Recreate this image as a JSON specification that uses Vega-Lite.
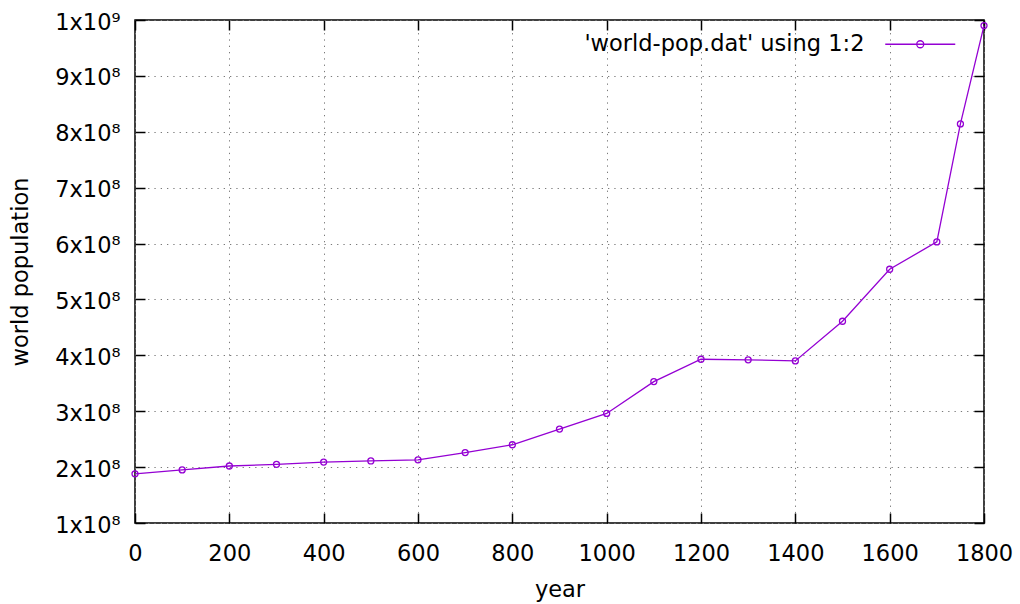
{
  "$schema": "https://vega.github.io/schema/vega-lite/v6.json",
  "width": 849,
  "height": 503,
  "autosize": {"type": "none"},
  "padding": {"left": 135, "top": 20, "right": 36, "bottom": 81},
  "background": "white",
  "config": {
    "font": "DejaVu Sans",
    "view": {"stroke": "black", "strokeWidth": 1.5},
    "axis": {
      "domain": false,
      "labelFont": "DejaVu Sans",
      "labelFontSize": 22.5,
      "labelColor": "black",
      "titleFont": "DejaVu Sans",
      "titleFontSize": 22.5,
      "titleFontWeight": "normal",
      "titleColor": "black",
      "tickColor": "black",
      "tickWidth": 1.5,
      "tickSize": -10,
      "labelOverlap": false,
      "labelFlush": false,
      "gridColor": "#7a7a7a",
      "gridWidth": 1,
      "gridDash": [1.3, 5]
    }
  },
  "data": {
    "values": [
      {"year": 0, "population": 188000000, "series": "'world-pop.dat' using 1:2"},
      {"year": 100, "population": 195000000, "series": "'world-pop.dat' using 1:2"},
      {"year": 200, "population": 202000000, "series": "'world-pop.dat' using 1:2"},
      {"year": 300, "population": 205000000, "series": "'world-pop.dat' using 1:2"},
      {"year": 400, "population": 209000000, "series": "'world-pop.dat' using 1:2"},
      {"year": 500, "population": 211000000, "series": "'world-pop.dat' using 1:2"},
      {"year": 600, "population": 213000000, "series": "'world-pop.dat' using 1:2"},
      {"year": 700, "population": 226000000, "series": "'world-pop.dat' using 1:2"},
      {"year": 800, "population": 240000000, "series": "'world-pop.dat' using 1:2"},
      {"year": 900, "population": 268000000, "series": "'world-pop.dat' using 1:2"},
      {"year": 1000, "population": 296000000, "series": "'world-pop.dat' using 1:2"},
      {"year": 1100, "population": 353000000, "series": "'world-pop.dat' using 1:2"},
      {"year": 1200, "population": 393000000, "series": "'world-pop.dat' using 1:2"},
      {"year": 1300, "population": 392000000, "series": "'world-pop.dat' using 1:2"},
      {"year": 1400, "population": 390000000, "series": "'world-pop.dat' using 1:2"},
      {"year": 1500, "population": 461000000, "series": "'world-pop.dat' using 1:2"},
      {"year": 1600, "population": 554000000, "series": "'world-pop.dat' using 1:2"},
      {"year": 1700, "population": 603000000, "series": "'world-pop.dat' using 1:2"},
      {"year": 1750, "population": 814000000, "series": "'world-pop.dat' using 1:2"},
      {"year": 1800, "population": 990000000, "series": "'world-pop.dat' using 1:2"}
    ]
  },
  "layer": [
    {
      "mark": {"type": "line", "strokeWidth": 1.3},
      "encoding": {
        "x": {
          "field": "year",
          "type": "quantitative",
          "scale": {"domain": [0, 1800], "nice": false, "zero": false},
          "axis": {
            "title": "year",
            "values": [0, 200, 400, 600, 800, 1000, 1200, 1400, 1600, 1800],
            "grid": true,
            "labelPadding": 29,
            "titlePadding": 14,
            "labelExpr": "format(datum.value, 'd')"
          }
        },
        "y": {
          "field": "population",
          "type": "quantitative",
          "scale": {"domain": [100000000, 1000000000], "nice": false, "zero": false},
          "axis": {
            "title": "world population",
            "values": [100000000, 200000000, 300000000, 400000000, 500000000, 600000000, 700000000, 800000000, 900000000, 1000000000],
            "grid": true,
            "labelPadding": 25,
            "labelOffset": 2,
            "titlePadding": 22,
            "labelExpr": "datum.value >= 1000000000 ? '1x10⁹' : format(round(datum.value / 100000000), 'd') + 'x10⁸'"
          }
        },
        "color": {
          "field": "series",
          "type": "nominal",
          "scale": {"range": ["#9400d3"]},
          "legend": {
            "title": null,
            "orient": "top-right",
            "offset": 13,
            "padding": 0,
            "symbolType": "M-7,0H7M-0.7,0A0.7,0.7,0,1,1,0.7,0A0.7,0.7,0,1,1,-0.7,0M9.6,0",
            "symbolSize": 100,
            "symbolStrokeWidth": 1.3,
            "symbolFillColor": "transparent",
            "labelFont": "DejaVu Sans",
            "labelFontSize": 22.5,
            "labelColor": "black",
            "labelAlign": "right",
            "labelOffset": -67,
            "labelLimit": 0
          }
        }
      }
    },
    {
      "mark": {"type": "point", "shape": "circle", "filled": false, "size": 36, "strokeWidth": 1.3, "opacity": 1},
      "encoding": {
        "x": {"field": "year", "type": "quantitative", "axis": null},
        "y": {"field": "population", "type": "quantitative", "axis": null},
        "color": {"field": "series", "type": "nominal", "legend": null}
      }
    },
    {
      "mark": {"type": "point", "opacity": 0},
      "encoding": {
        "x": {
          "field": "year",
          "type": "quantitative",
          "axis": {
            "orient": "top",
            "title": null,
            "labels": false,
            "grid": false,
            "values": [0, 200, 400, 600, 800, 1000, 1200, 1400, 1600, 1800]
          }
        },
        "y": {
          "field": "population",
          "type": "quantitative",
          "axis": {
            "orient": "right",
            "title": null,
            "labels": false,
            "grid": false,
            "values": [100000000, 200000000, 300000000, 400000000, 500000000, 600000000, 700000000, 800000000, 900000000, 1000000000]
          }
        }
      }
    }
  ],
  "resolve": {"axis": {"x": "independent", "y": "independent"}}
}
